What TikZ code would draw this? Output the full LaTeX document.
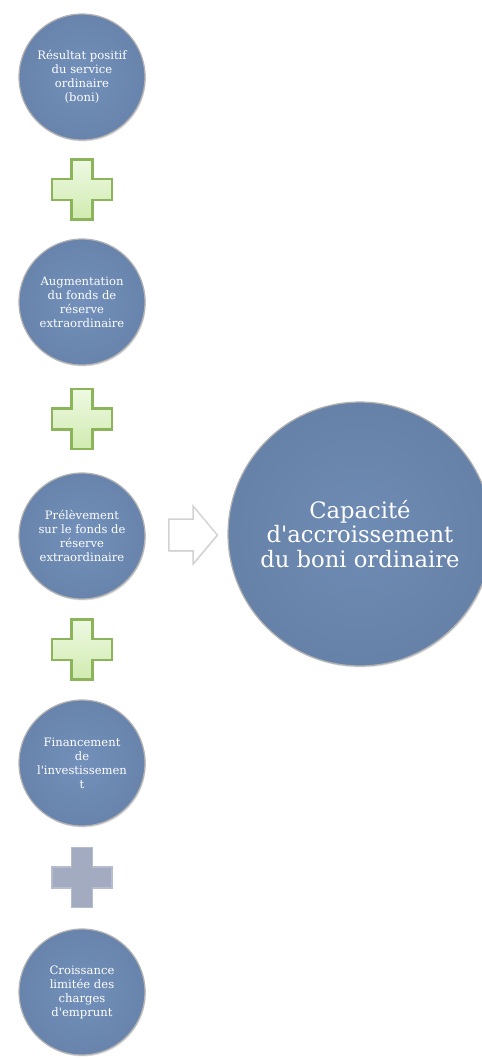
\documentclass[tikz,border=0pt]{standalone}
\usepackage{fontspec}
\setmainfont{DejaVu Serif}[Ligatures=TeXOff]
\usetikzlibrary{shapes.arrows,shadows,calc}

\definecolor{discblue}{RGB}{114,144,186}
\definecolor{discdark}{RGB}{104,132,172}
\definecolor{greenline}{RGB}{140,180,90}
\definecolor{greenlight}{RGB}{238,249,226}
\definecolor{greenfill}{RGB}{208,235,176}
\definecolor{grayplus}{RGB}{163,171,192}

\tikzset{
  term/.style={circle, minimum size=2.52cm, inner sep=0pt, draw=gray!60, line width=.7pt,
    inner color=discblue, outer color=discdark, text=white, align=center,
    font=\fontsize{6.6}{8}\selectfont,
    drop shadow={shadow xshift=.5pt, shadow yshift=-.8pt, opacity=.25}},
  result/.style={term, minimum size=5.28cm, inner color=discblue!97!black, outer color=discblue!90!black,
    font=\fontsize{12.9}{13.9}\selectfont},
  plus/.pic={
    \path[pic actions] (-10.5,-30)--(10.5,-30)--(10.5,-10.5)--(30,-10.5)--(30,10.5)--(10.5,10.5)
      --(10.5,30)--(-10.5,30)--(-10.5,10.5)--(-30,10.5)--(-30,-10.5)--(-10.5,-10.5)--cycle;
  }
}

\begin{document}
\begin{tikzpicture}[x=0.02cm,y=-0.02cm]
  \useasboundingbox (0,0) rectangle (481,1059);

  \node[term] (r1) at (82,77)  {Résultat positif\\du service\\ordinaire\\(boni)};
  \node[term] (r2) at (82,302) {Augmentation\\du fonds de\\réserve\\extraordinaire};
  \node[term] (r3) at (82,536) {Prélèvement\\sur le fonds de\\réserve\\extraordinaire};
  \node[term] (r4) at (82,763) {Financement\\de\\l'investissemen\\t};
  \node[term] (r5) at (82,992) {Croissance\\limitée des\\charges\\d'emprunt};

  \node[result] (cap) at (360,534) {Capacité\\d'accroissement\\du boni ordinaire};

  % green plus signs between the first four terms
  \foreach \a/\b in {r1/r2,r2/r3,r3/r4}
    \pic[draw=greenline, line width=1.3pt, top color=greenlight, bottom color=greenfill,
      drop shadow={shadow xshift=.4pt, shadow yshift=-.6pt, opacity=.25}]
      at ($(\a)!.5!(\b)$) {plus};
  \pic[draw=grayplus!80!white, line width=.8pt, fill=grayplus,
    drop shadow={shadow xshift=.4pt, shadow yshift=-.6pt, opacity=.2}]
    at ($(r4)!.5!(r5)$) {plus};

  \node[single arrow, draw=gray!35, line width=.8pt, fill=white, inner sep=8.6pt,
    minimum height=.97cm, single arrow head extend=7.5pt, single arrow tip angle=100,
    drop shadow={shadow xshift=.4pt, shadow yshift=-.6pt, opacity=.15}]
    (to) at ($(r3.east)!.5!(cap.west)$) {};
\end{tikzpicture}
\end{document}
